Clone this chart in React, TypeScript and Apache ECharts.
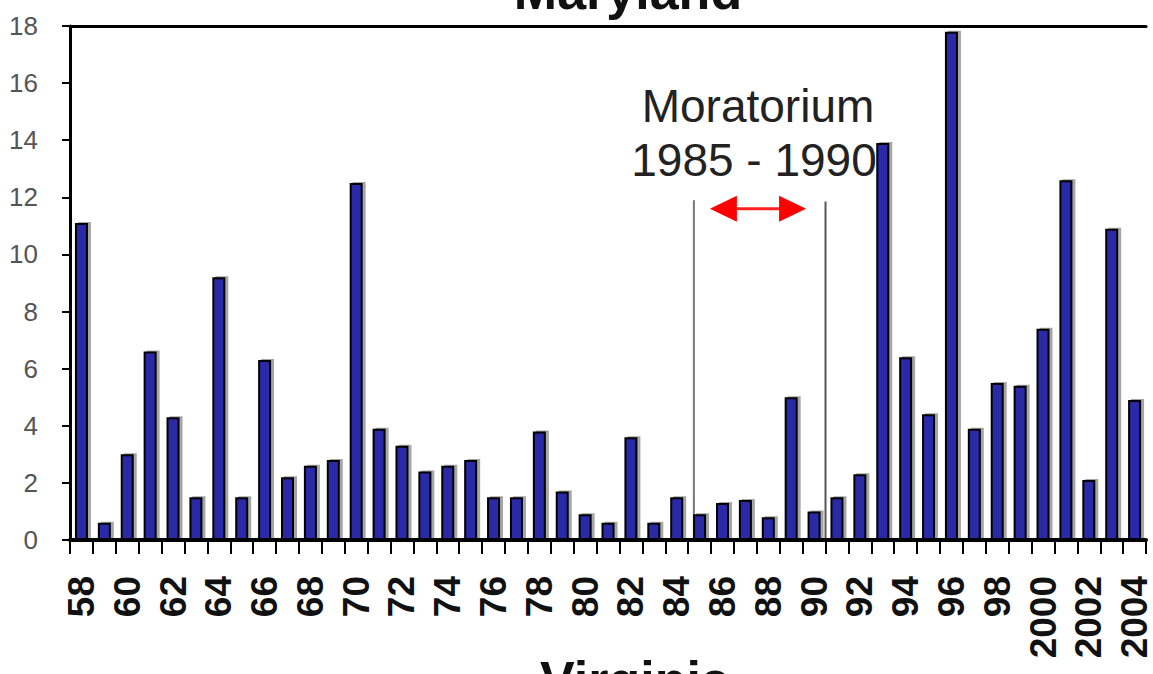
import React, { useEffect, useRef } from "react";
import * as echarts from "echarts";

const years: string[] = [
  "58","59","60","61","62","63","64","65","66","67","68","69","70","71","72","73","74","75","76","77","78","79",
  "80","81","82","83","84","85","86","87","88","89","90","91","92","93","94","95","96","97","98","99",
  "2000","2001","2002","2003","2004",
];
const values: number[] = [
  11.1, 0.6, 3.0, 6.6, 4.3, 1.5, 9.2, 1.5, 6.3, 2.2, 2.6, 2.8, 12.5, 3.9, 3.3, 2.4, 2.6, 2.8, 1.5, 1.5, 3.8, 1.7,
  0.9, 0.6, 3.6, 0.6, 1.5, 0.9, 1.3, 1.4, 0.8, 5.0, 1.0, 1.5, 2.3, 13.9, 6.4, 4.4, 17.8, 3.9, 5.5, 5.4,
  7.4, 12.6, 2.1, 10.9, 4.9,
];
const yTicks = { min: 0, max: 18, interval: 2 };
const titleTop = "Maryland";
const titleBottom = "Virginia";
const noteLine1 = "Moratorium";
const noteLine2 = "1985 - 1990";
const moratoriumStart = "85";
const moratoriumEnd = "90";

export default function App() {
  const ref = useRef<HTMLDivElement>(null);
  useEffect(() => {
    document.body.style.margin = "0";
    const chart = echarts.init(ref.current!, null, { renderer: "svg" });
    chart.setOption({
      animation: false,
      backgroundColor: "#ffffff",
      grid: { left: 70, top: 26, width: 1085, height: 514 },
      xAxis: [
        {
          type: "category",
          data: years,
          boundaryGap: true,
          axisLine: { lineStyle: { color: "#000", width: 4 } },
          axisTick: { show: true, interval: 0, length: 14, lineStyle: { color: "#000", width: 2 } },
          axisLabel: {
            interval: 1,
            rotate: 90,
            margin: 36,
            fontSize: 37,
            fontWeight: "bold",
            color: "#111",
            fontFamily: "'Liberation Sans', Arial, sans-serif",
          },
        },
        {
          type: "category",
          data: years,
          position: "top",
          axisLine: { show: true, lineStyle: { color: "#000", width: 3 } },
          axisTick: { show: false },
          axisLabel: { show: false },
        },
      ],
      yAxis: {
        type: "value",
        min: yTicks.min,
        max: yTicks.max,
        interval: yTicks.interval,
        splitLine: { show: false },
        axisLine: { show: true, lineStyle: { color: "#000", width: 3 } },
        axisTick: { show: true, length: 8, lineStyle: { color: "#000", width: 2 } },
        axisLabel: {
          margin: 32,
          fontSize: 26,
          color: "#555",
          fontFamily: "'Liberation Sans Narrow', 'Liberation Sans', Arial, sans-serif",
        },
      },
      series: [
        {
          type: "bar",
          data: values,
          barWidth: 13,
          itemStyle: {
            color: "#2a2aa8",
            borderColor: "#000",
            borderWidth: 2,
            shadowColor: "rgba(0,0,0,0.35)",
            shadowOffsetX: 3,
            shadowOffsetY: -1,
            shadowBlur: 0,
          },
        },
      ],
    });

    const px = (idx: number, v: number) => {
      const x0 = chart.convertToPixel({ xAxisIndex: 0 }, 0) as number;
      const x1 = chart.convertToPixel({ xAxisIndex: 0 }, 1) as number;
      const step = x1 - x0;
      const y = chart.convertToPixel({ yAxisIndex: 0 }, v) as number;
      return [x0 + idx * step, y, step];
    };
    const iStart = years.indexOf(moratoriumStart);
    const iEnd = years.indexOf(moratoriumEnd);
    const [l1x, l1y] = px(iStart - 0.25, 11.9);
    const [, baseY] = px(0, 0);
    const [l2x, l2y] = px(iEnd + 0.5, 11.85);
    const [aLx, aY] = px(iStart + 0.45, 11.6);
    const [aRx] = px(iStart + 4.65, 11.6);
    const [tx, t1y] = px(iStart + 2.55, 15.2);
    const [, t2y] = px(iStart + 2.5, 13.3);
    const noteFont = "'Liberation Sans', Arial, sans-serif";
    chart.setOption({
      graphic: [
        { type: "line", shape: { x1: l1x, y1: l1y, x2: l1x, y2: baseY }, style: { stroke: "#777", lineWidth: 2 } },
        { type: "line", shape: { x1: l2x, y1: l2y, x2: l2x, y2: baseY }, style: { stroke: "#555", lineWidth: 2 } },
        { type: "line", shape: { x1: aLx + 20, y1: aY, x2: aRx - 20, y2: aY }, style: { stroke: "#ff2020", lineWidth: 3 } },
        { type: "polygon", shape: { points: [[aLx, aY], [aLx + 27, aY - 13], [aLx + 27, aY + 13]] }, style: { fill: "#ff0000" } },
        { type: "polygon", shape: { points: [[aRx, aY], [aRx - 27, aY - 13], [aRx - 27, aY + 13]] }, style: { fill: "#ff0000" } },
        {
          type: "text",
          x: tx,
          y: t1y,
          style: { text: noteLine1, fontSize: 46, fill: "#222", textAlign: "center", textVerticalAlign: "middle", fontFamily: noteFont },
        },
        {
          type: "text",
          x: tx - 4,
          y: t2y,
          style: { text: noteLine2, fontSize: 46, fill: "#222", textAlign: "center", textVerticalAlign: "middle", fontFamily: noteFont },
        },
        {
          type: "text",
          x: 628,
          y: -9,
          style: { text: titleTop, fontSize: 52, fontWeight: "bold", fill: "#111", textAlign: "center", textVerticalAlign: "middle", fontFamily: noteFont },
        },
        {
          type: "text",
          x: 635,
          y: 680,
          style: { text: titleBottom, fontSize: 52, fontWeight: "bold", fill: "#111", textAlign: "center", textVerticalAlign: "middle", fontFamily: noteFont },
        },
      ],
    });
    return () => chart.dispose();
  }, []);
  return <div ref={ref} style={{ width: 1153, height: 674 }} />;
}
